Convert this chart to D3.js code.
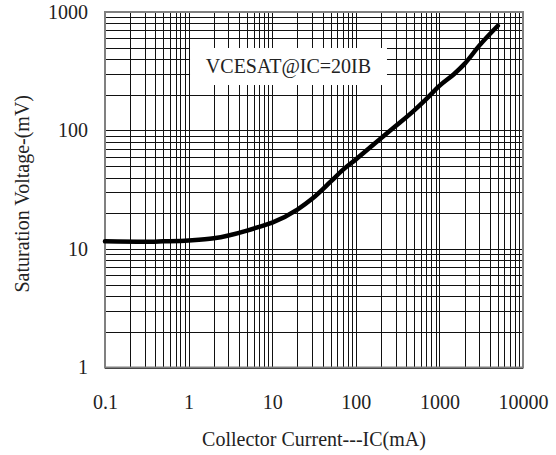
<!DOCTYPE html>
<html><head><meta charset="utf-8">
<script src="https://cdn.jsdelivr.net/npm/d3@7/dist/d3.min.js"></script>
<style>body{margin:0;background:#fff}svg{display:block}</style>
</head><body>
<script>
const currentMA = [0.1, 0.3, 0.5, 1, 2, 3, 5, 7, 10, 20, 30, 50, 70, 100, 200, 300, 500, 700, 1000, 1500, 2000, 3000, 5000];
const vceSatMV  = [11.6, 11.5, 11.6, 11.8, 12.3, 13.0, 14.3, 15.4, 16.7, 21.5, 26.5, 37, 46.5, 57, 86, 109, 148, 185, 238, 300, 365, 520, 765];
const xTickLabels = ["0.1", "1", "10", "100", "1000", "10000"];
const yTickLabels = ["1", "10", "100", "1000"];
const annotation = "VCESAT@IC=20IB";

const FONT = "serif";
const W = 556, H = 455;
const m = {l:105, r:33, t:12, b:87.5};
const svg = d3.select("body").append("svg").attr("width", W).attr("height", H).attr("font-family", FONT);

const x = d3.scaleLog().domain([0.1, 10000]).range([m.l, W - m.r]);
const y = d3.scaleLog().domain([1, 1000]).range([H - m.b, m.t]);

const xGrid = [], yGrid = [];
for (let d = -1; d < 4; d++) for (let k = 1; k <= 9; k++) xGrid.push(k * Math.pow(10, d));
xGrid.push(10000);
for (let d = 0; d < 3; d++) for (let k = 1; k <= 9; k++) yGrid.push(k * Math.pow(10, d));
yGrid.push(1000);

const g = svg.append("g");
g.selectAll(".vx").data(xGrid).join("line")
  .attr("x1", d => Math.round(x(d)) + 0.5).attr("x2", d => Math.round(x(d)) + 0.5)
  .attr("y1", y(1)).attr("y2", y(1000))
  .attr("stroke", "#111").attr("stroke-width", 1);
g.selectAll(".hy").data(yGrid).join("line")
  .attr("y1", d => Math.round(y(d)) + 0.5).attr("y2", d => Math.round(y(d)) + 0.5)
  .attr("x1", x(0.1)).attr("x2", x(10000))
  .attr("stroke", "#111").attr("stroke-width", 1);

const bx0 = x(1.04), bx1 = x(236), by0 = y(497), by1 = y(242);
svg.append("rect").attr("x", bx0).attr("y", by0).attr("width", bx1 - bx0).attr("height", by1 - by0).attr("fill", "#fff");
svg.append("text").attr("x", (bx0 + bx1) / 2).attr("y", (by0 + by1) / 2 + 7)
  .attr("text-anchor", "middle").style("font-family", FONT).style("font-size", "20px").attr("fill", "#222").text(annotation);

svg.append("rect").attr("x", x(0.1)).attr("y", y(1000)).attr("width", x(10000) - x(0.1)).attr("height", y(1) - y(1000))
  .attr("fill", "none").attr("stroke", "#808080").attr("stroke-width", 2);

const pts = currentMA.map((c, i) => [c, vceSatMV[i]]);
svg.append("path").datum(pts)
  .attr("d", d3.line().x(d => x(d[0])).y(d => y(d[1])).curve(d3.curveMonotoneX))
  .attr("fill", "none").attr("stroke", "#000").attr("stroke-width", 4.5).attr("stroke-linecap", "round");

const xAxis = d3.axisBottom(x).tickValues([0.1, 1, 10, 100, 1000, 10000]).tickFormat((d, i) => xTickLabels[i]).tickSize(0).tickPadding(27);
const xa = svg.append("g").attr("transform", `translate(0,${y(1)})`).call(xAxis);
xa.attr("font-family", FONT).attr("font-size", 20);
xa.select(".domain").remove();
xa.selectAll("text").style("font-family", FONT).style("font-size", "20px").attr("fill", "#222");

const yAxis = d3.axisLeft(y).tickValues([1, 10, 100, 1000]).tickFormat((d, i) => yTickLabels[i]).tickSize(0).tickPadding(17);
const ya = svg.append("g").attr("transform", `translate(${x(0.1)},0)`).call(yAxis);
ya.attr("font-family", FONT).attr("font-size", 20);
ya.select(".domain").remove();
ya.selectAll("text").style("font-family", FONT).style("font-size", "20px").attr("fill", "#222");

svg.append("text").attr("x", (x(0.1) + x(10000)) / 2).attr("y", 446)
  .attr("text-anchor", "middle").style("font-family", FONT).style("font-size", "20px").attr("fill", "#222").text("Collector Current---IC(mA)");
svg.append("text").attr("transform", `translate(29,${(y(1) + y(1000)) / 2 + 4})rotate(-90)`)
  .attr("text-anchor", "middle").style("font-family", FONT).style("font-size", "20px").attr("fill", "#222").text("Saturation Voltage-(mV)");
</script>
</body></html>
